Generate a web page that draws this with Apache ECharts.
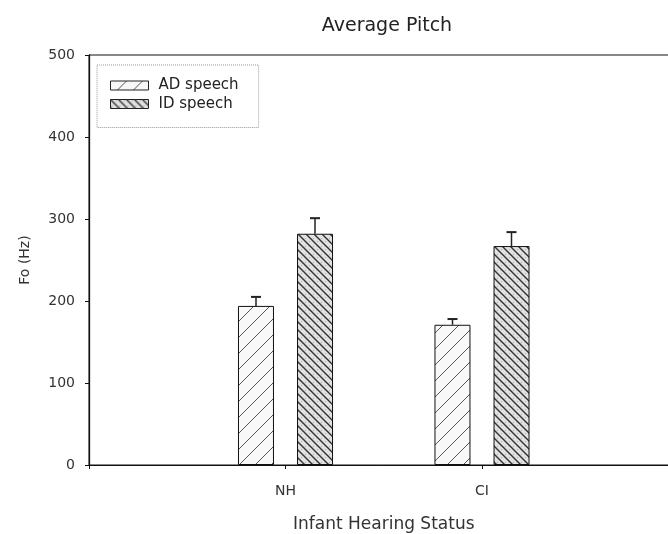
<!DOCTYPE html>
<html><head><meta charset="utf-8">
<script src="https://cdn.jsdelivr.net/npm/echarts@6/dist/echarts.min.js"></script>
<style>html,body{margin:0;padding:0;background:#fff}#c{width:668px;height:534px}</style>
</head><body><div id="c"></div>
<script>
const categories = ['NH', 'CI'];
const categoryPositions = [1, 2];
const seriesNames = ['AD speech', 'ID speech'];
const adMeans = [194, 171];
const adErrors = [11, 7];
const idMeans = [282, 267];
const idErrors = [19, 17];
const yTicks = [0, 100, 200, 300, 400, 500];

function makePattern(kind) {
  const c = document.createElement('canvas');
  const s = kind === 'ad' ? 16 : 8;
  c.width = s; c.height = s;
  const g = c.getContext('2d');
  if (kind === 'ad') {
    g.fillStyle = '#f8f8f8'; g.fillRect(0, 0, s, s);
    g.strokeStyle = '#555'; g.lineWidth = 1;
    g.beginPath();
    g.moveTo(-1, s + 1); g.lineTo(s + 1, -1);
    g.moveTo(-1, 1); g.lineTo(1, -1);
    g.moveTo(s - 1, s + 1); g.lineTo(s + 1, s - 1);
    g.stroke();
  } else {
    g.fillStyle = '#e2e2e2'; g.fillRect(0, 0, s, s);
    g.fillStyle = '#aaa'; g.fillRect(5, 1, 1, 1); g.fillRect(1, 6, 1, 1);
    g.strokeStyle = '#333'; g.lineWidth = 1.4;
    g.beginPath();
    g.moveTo(-1, -1); g.lineTo(s + 1, s + 1);
    g.moveTo(s - 1, -1); g.lineTo(s + 1, 1);
    g.moveTo(-1, s - 1); g.lineTo(1, s + 1);
    g.stroke();
  }
  return { image: c, repeat: 'repeat' };
}

const adData = categoryPositions.map((x, i) => [x, adMeans[i]]);
const idData = categoryPositions.map((x, i) => [x, idMeans[i]]);
const adErr = categoryPositions.map((x, i) => [x, adMeans[i], adErrors[i]]);
const idErr = categoryPositions.map((x, i) => [x, idMeans[i], idErrors[i]]);

function errRender(offset) {
  return function (params, api) {
    const x = api.value(0), m = api.value(1), e = api.value(2);
    const p0 = api.coord([x, m]);
    const p1 = api.coord([x, m + e]);
    const cx = p0[0] + offset;
    return {
      type: 'group',
      children: [
        { type: 'line', shape: { x1: cx, y1: p0[1], x2: cx, y2: p1[1] }, style: { stroke: '#222', lineWidth: 1.5 } },
        { type: 'line', shape: { x1: cx - 5, y1: p1[1], x2: cx + 5, y2: p1[1] }, style: { stroke: '#222', lineWidth: 2 } }
      ]
    };
  };
}

const chart = echarts.init(document.getElementById('c'), null, { renderer: 'canvas' });
const font = '"DejaVu Sans", Arial, sans-serif';
chart.setOption({
  animation: false,
  title: {
    text: 'Average Pitch', left: 382, top: 12, textAlign: 'center',
    textStyle: { fontFamily: font, fontSize: 19, fontWeight: 'normal', color: '#222' }
  },
  legend: {
    data: seriesNames, orient: 'vertical', left: 97, top: 65,
    padding: [13, 20, 16, 13], itemGap: 3.5, itemWidth: 38, itemHeight: 9,
    icon: 'rect',
    itemStyle: { borderColor: '#222', borderWidth: 1 },
    borderColor: '#999', borderWidth: 1, borderType: 'dotted',
    textStyle: { fontFamily: font, fontSize: 15, color: '#222', lineHeight: 14, padding: [0, 0, 0, 5] }
  },
  grid: {
    left: 89, top: 55, width: 589.5, height: 410,
    outerBoundsMode: 'none',
    show: true, borderColor: '#111', borderWidth: 1
  },
  xAxis: {
    type: 'value', min: 0, max: 3, interval: 1,
    name: 'Infant Hearing Status', nameLocation: 'middle', nameGap: 51,
    nameTextStyle: { fontFamily: font, fontSize: 17, color: '#333' },
    axisLine: { show: true, lineStyle: { color: '#111' } },
    axisTick: { show: true, length: 4, lineStyle: { color: '#111' } },
    splitLine: { show: false },
    axisLabel: {
      fontFamily: font, fontSize: 14, color: '#333', margin: 19,
      formatter: function (v) { const i = categoryPositions.indexOf(v); return i >= 0 ? categories[i] : ''; }
    }
  },
  yAxis: {
    type: 'value', min: yTicks[0], max: yTicks[yTicks.length - 1], interval: 100,
    name: 'Fo (Hz)', nameLocation: 'middle', nameGap: 57,
    nameTextStyle: { fontFamily: font, fontSize: 14, color: '#333' },
    axisLine: { show: true, lineStyle: { color: '#111', width: 1.3 } },
    axisTick: { show: true, length: 4, lineStyle: { color: '#111' } },
    splitLine: { show: false },
    axisLabel: { fontFamily: font, fontSize: 14, color: '#333', margin: 14 }
  },
  series: [
    { name: seriesNames[0], type: 'bar', data: adData, barWidth: 36, barGap: '64%',
      itemStyle: { color: makePattern('ad'), borderColor: '#111', borderWidth: 1 } },
    { name: seriesNames[1], type: 'bar', data: idData, barWidth: 36, barGap: '64%',
      itemStyle: { color: makePattern('id'), borderColor: '#111', borderWidth: 1 } },
    { type: 'custom', data: adErr, renderItem: errRender(-29.5), z: 5, silent: true },
    { type: 'custom', data: idErr, renderItem: errRender(29.5), z: 5, silent: true }
  ]
});
</script></body></html>
